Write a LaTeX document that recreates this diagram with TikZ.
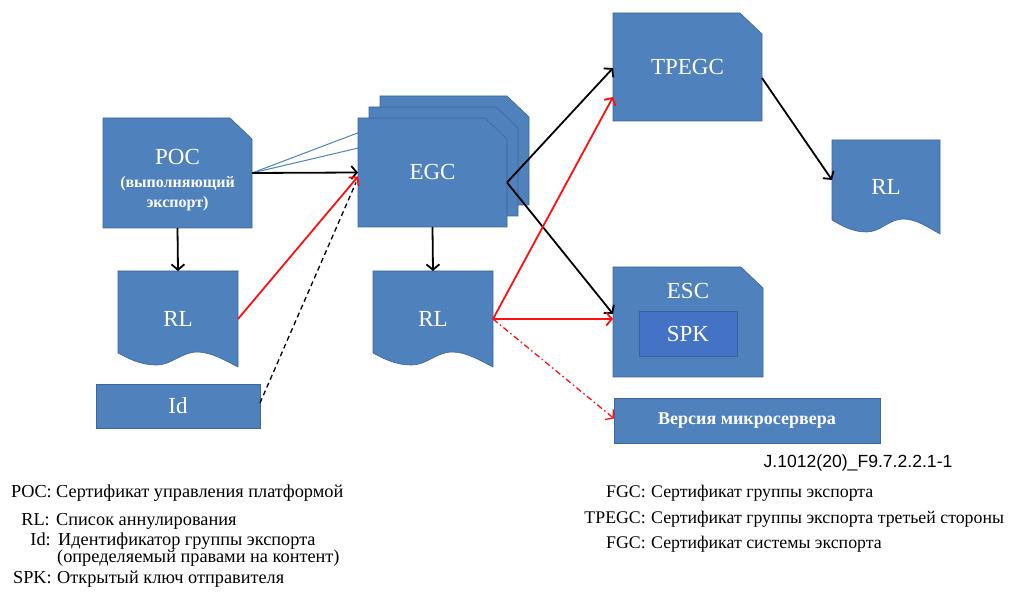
\documentclass[tikz,border=0pt]{standalone}
\usepackage{fontspec}
\setmainfont{Liberation Serif}
\newfontfamily\codesans{Liberation Sans}
\usetikzlibrary{arrows.meta,calc,backgrounds}

\definecolor{cardblue}{HTML}{4F81BD}
\definecolor{cardedge}{HTML}{3C679A}
\definecolor{keyblue}{HTML}{4472C4}
\definecolor{keyedge}{HTML}{3A5FA3}
\definecolor{linkred}{HTML}{FF1010}

\tikzset{
  card/.style={fill=cardblue, draw=cardedge, line width=0.6pt},
  keybox/.style={fill=keyblue, draw=keyedge, line width=0.8pt},
  holder/.style={inner sep=0pt, outer sep=0pt, text=white,
    font=\fontsize{23}{26}\selectfont},
  subtitle/.style={inner sep=0pt, anchor=base, text=white,
    font=\bfseries\fontsize{16}{18}\selectfont},
  flow/.style={line width=1.8pt, -{Straight Barb[length=5.5pt,width=13pt]}},
  redflow/.style={flow, draw=linkred},
  thinlink/.style={draw=cardblue, line width=1pt},
  idlink/.style={line width=1.3pt, dash pattern=on 5pt off 3.5pt},
  verlink/.style={draw=linkred, line width=1.3pt,
    dash pattern=on 6pt off 3pt on 1.5pt off 3pt,
    -{Straight Barb[length=5.5pt,width=13pt]}},
  legkey/.style={anchor=base east, inner sep=0pt, font=\fontsize{18.3}{18}\selectfont},
  legtxt/.style={anchor=base west, inner sep=0pt, font=\fontsize{18.3}{18}\selectfont},
  legkeyr/.style={legkey, font=\fontsize{17.8}{18}\selectfont},
  legtxtr/.style={legtxt, font=\fontsize{17.8}{18}\selectfont},
}

% certificate card with a clipped top-right corner
\newcommand\cardshape[1]{%
  \filldraw[card] (#1.north west) -- ($(#1.north east)+(-22,0)$)
    -- ($(#1.north east)+(0,21)$) -- (#1.south east) -- (#1.south west) -- cycle;}

% revocation-list sheet with a wavy lower edge
\newcommand\docshape[1]{%
  \filldraw[card] (#1.north west) -- (#1.north east) -- (#1.south east)
    .. controls ($(#1.south west)!0.90!(#1.south east)+(0,-6)$)
            and ($(#1.south west)!0.78!(#1.south east)+(0,-15)$)
    .. ($(#1.south west)!0.66!(#1.south east)+(0,-15)$)
    .. controls ($(#1.south west)!0.53!(#1.south east)+(0,-15)$)
            and ($(#1.south west)!0.45!(#1.south east)+(0,-2)$)
    .. ($(#1.south west)!0.32!(#1.south east)+(0,-2)$)
    .. controls ($(#1.south west)!0.18!(#1.south east)+(0,-2)$)
            and ($(#1.south west)!0.08!(#1.south east)+(0,-9)$)
    .. ($(#1.south west)+(0,-14)$) -- cycle;}

\begin{document}
\begin{tikzpicture}[x=1pt,y=-1pt]
\useasboundingbox (0,0) rectangle (1012,593);

% ---- nodes ----
\node[holder, minimum width=149pt, minimum height=110pt] (poc) at (177.5,173) {};
\node[holder, anchor=base] (poct) at (177.5,165) {POC};
\node[subtitle] (pocs1) at (177.5,188) {(выполняющий};
\node[subtitle] (pocs2) at (177.5,208) {экспорт)};

\node[holder, minimum width=149pt, minimum height=109pt] (egc3) at (454.5,150.5) {};
\node[holder, minimum width=149pt, minimum height=109pt] (egc2) at (443.5,161.5) {};
\node[holder, minimum width=149pt, minimum height=109pt] (egc) at (432.5,172.5) {EGC};

\node[holder, minimum width=149pt, minimum height=108pt] (tpegc) at (687.5,67) {TPEGC};

\node[holder, minimum width=150pt, minimum height=110pt] (esc) at (688,322) {};
\node[holder] (esclbl) at (688,291) {ESC};
\node[holder, minimum width=98pt, minimum height=45pt] (spk) at (688,333.5) {SPK};

\node[holder, minimum width=120pt, minimum height=96pt] (rlL) at (178,319) {RL};
\node[holder, minimum width=120pt, minimum height=96pt] (rlM) at (433,319) {RL};
\node[holder, minimum width=108pt, minimum height=94pt] (rlR) at (886,187) {RL};

\node[holder, minimum width=164pt, minimum height=44pt] (id) at (178,406) {Id};
\node[holder, minimum width=266pt, minimum height=45pt,
      font=\bfseries\fontsize{18}{20}\selectfont] (ver) at (747,420.5) {Версия микросервера};

% ---- shapes ----
\begin{pgfonlayer}{background}
  \fill[white] (0,0) rectangle (1012,593);
  \cardshape{egc3}
  \cardshape{egc2}
  \draw[thinlink] (poc.east) -- ($(egc3.west)+(0,-26)$);
  \draw[thinlink] (poc.east) -- ($(egc2.west)+(0,-16)$);
  \cardshape{egc}
  \cardshape{poc}
  \cardshape{tpegc}
  \cardshape{esc}
  \docshape{rlL}
  \docshape{rlM}
  \docshape{rlR}
  \filldraw[card] (id.north west) rectangle (id.south east);
  \filldraw[card] (ver.north west) rectangle (ver.south east);
  \filldraw[keybox] (spk.north west) rectangle (spk.south east);
\end{pgfonlayer}

% ---- connectors ----
\draw[idlink] ($(id.east)+(0,-3)$) -- ($(egc.west)+(-2,10)$);
\draw[flow] (poc.east) -- (egc.west);
\draw[flow] (poc.south) -- (rlL.north);
\draw[redflow] (rlL.east) -- ($(egc.west)+(0,4)$);
\draw[flow] (egc.south) -- (rlM.north);
\draw[flow] ($(egc.east)+(0,10)$) -- ($(tpegc.west)+(0,1)$);
\draw[flow] ($(egc.east)+(0,10)$) -- ($(esc.west)+(0,-8)$);
\draw[redflow] (rlM.east) -- ($(tpegc.west)+(0,30)$);
\draw[redflow] (rlM.east) -- (rlM.east -| esc.west);
\draw[verlink] (rlM.east) -- ($(ver.west)+(0,-2)$);
\draw[flow] ($(tpegc.east)+(0,11)$) -- ($(rlR.west)+(0,-7)$);

% ---- figure code and legend ----
\node[inner sep=0pt, font=\codesans\fontsize{17.6}{17}\selectfont] (code) at (858,463) {J.1012(20)\_F9.7.2.2.1-1};

\node[legkey] (kpoc) at (52,497) {POC:};
\node[legtxt] (tpoc) at (56,497) {Сертификат управления платформой};
\node[legkey] (krl) at (50,525) {RL:};
\node[legtxt] (trl) at (56,525) {Список аннулирования};
\node[legkey] (kid) at (51,545) {Id:};
\node[legtxt] (tid1) at (58,545) {Идентификатор группы экспорта};
\node[legtxt] (tid2) at (57,562) {(определяемый правами на контент)};
\node[legkey] (kspk) at (52,583) {SPK:};
\node[legtxt] (tspk) at (57,583) {Открытый ключ отправителя};

\node[legkeyr] (kfgc) at (646,497) {FGC:};
\node[legtxtr] (tfgc) at (651,497) {Сертификат группы экспорта};
\node[legkeyr] (ktp) at (646,523) {TPEGC:};
\node[legtxtr] (ttp) at (651,523) {Сертификат группы экспорта третьей стороны};
\node[legkeyr] (kfsc) at (646,548) {FGC:};
\node[legtxtr] (tfsc) at (651,548) {Сертификат системы экспорта};
\end{tikzpicture}
\end{document}
